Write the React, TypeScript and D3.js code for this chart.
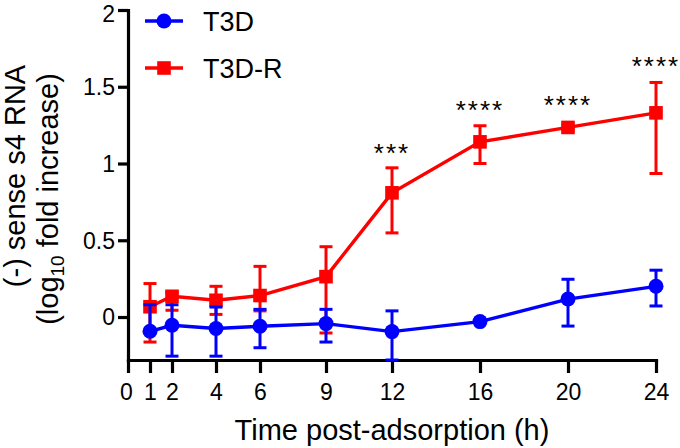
import React, { useEffect, useRef } from 'react';
import * as d3 from 'd3';

// hours post-adsorption
const times = [1, 2, 4, 6, 9, 12, 16, 20, 24];

// T3D (blue) mean and error bar ends
const t3dMean = [-0.093, -0.054, -0.075, -0.06, -0.043, -0.095, -0.03, 0.117, 0.2];
const t3dUpper = [0.08, 0.08, 0.065, 0.05, 0.05, 0.04, -0.03, 0.246, 0.305];
const t3dLower = [-0.1, -0.255, -0.255, -0.2, -0.163, -0.28, -0.03, -0.059, 0.072];

// T3D-R (red)
const t3drMean = [0.067, 0.135, 0.109, 0.14, 0.263, 0.809, 1.141, 1.235, 1.33];
const t3drUpper = [0.218, 0.16, 0.2, 0.33, 0.458, 0.972, 1.246, 1.25, 1.528];
const t3drLower = [-0.163, 0.044, 0.017, 0.04, -0.104, 0.548, 1.0, 1.22, 0.935];

// significance stars
const sigTimes = [12, 16, 20, 24];
const sigLabels = ['***', '****', '****', '****'];
const sigLevels = [1.107, 1.388, 1.417, 1.674];

const xTicks = [0, 1, 2, 4, 6, 9, 12, 16, 20, 24];
const yTicks = [0, 0.5, 1, 1.5, 2];

const FONT = '"Liberation Sans", Arial, sans-serif';

const App = () => {
  const svgRef = useRef(null);

  useEffect(() => {
    document.body.style.margin = '0';
    const svg = d3.select(svgRef.current);
    svg.selectAll('*').remove();

    const x = d3.scaleLinear().domain([0, 24]).range([128, 656]);
    const y = d3.scaleLinear().domain([-0.28, 2]).range([360, 10]);

    // axes
    const xAxis = d3.axisBottom(x)
      .tickValues(xTicks)
      .tickSizeInner(13)
      .tickSizeOuter(0)
      .tickFormat(d => String(d));
    const yAxis = d3.axisLeft(y)
      .tickValues(yTicks)
      .tickSizeInner(10)
      .tickSizeOuter(0)
      .tickFormat(d => String(d));

    const $x = svg.append('g')
      .attr('transform', `translate(0, ${y(-0.28)})`)
      .call(xAxis);
    const $y = svg.append('g')
      .attr('transform', `translate(${x(0)}, 0)`)
      .call(yAxis);

    [$x, $y].forEach(g => {
      g.select('.domain').attr('stroke', '#000').attr('stroke-width', 3.2).attr('stroke-linecap', 'square');
      g.selectAll('.tick line').attr('stroke', '#000').attr('stroke-width', 3.2);
      g.selectAll('.tick text')
        .attr('fill', '#000')
        .style('font-family', FONT)
        .style('font-size', '23px');
    });
    $x.selectAll('.tick text').attr('y', 24).attr('dy', '0.71em');
    $x.select('.tick text').attr('dx', -2);
    $y.selectAll('.tick text').attr('x', -13).attr('dy', '0.34em');
    // top label sits a little lower so it is not clipped
    $y.selectAll('.tick text').filter(d => d === 2).attr('dy', '0.52em');

    // axis titles
    svg.append('text')
      .attr('x', (x(0) + x(24)) / 2)
      .attr('y', 440)
      .attr('text-anchor', 'middle')
      .style('font-family', FONT)
      .style('font-size', '29px')
      .text('Time post-adsorption (h)');

    svg.append('text')
      .attr('transform', 'translate(25, 176) rotate(-90)')
      .attr('text-anchor', 'middle')
      .style('font-family', FONT)
      .style('font-size', '29px')
      .text('(-) sense s4 RNA');

    const t2 = svg.append('text')
      .attr('transform', 'translate(58, 199) rotate(-90)')
      .attr('text-anchor', 'middle')
      .style('font-family', FONT)
      .style('font-size', '29px');
    t2.append('tspan').text('(log');
    t2.append('tspan').attr('dy', 6).style('font-size', '19px').text('10');
    t2.append('tspan').attr('dy', -6).text(' fold increase)');

    const series = [
      { name: 'T3D-R', color: '#ff0000', mean: t3drMean, lo: t3drLower, hi: t3drUpper, shape: 'square' },
      { name: 'T3D', color: '#0000ff', mean: t3dMean, lo: t3dLower, hi: t3dUpper, shape: 'circle' },
    ];

    const line = d3.line()
      .x(d => x(d[0]))
      .y(d => y(d[1]));

    series.forEach(s => {
      const g = svg.append('g');
      const pts = times.map((t, i) => [t, s.mean[i]]);

      g.append('path')
        .datum(pts)
        .attr('d', line)
        .attr('fill', 'none')
        .attr('stroke', s.color)
        .attr('stroke-width', 3.4);

      // error bars
      times.forEach((t, i) => {
        const cx = x(t);
        g.append('line')
          .attr('x1', cx).attr('x2', cx)
          .attr('y1', y(s.hi[i])).attr('y2', y(s.lo[i]))
          .attr('stroke', s.color).attr('stroke-width', 3);
        [s.hi[i], s.lo[i]].forEach(v => {
          g.append('line')
            .attr('x1', cx - 6.5).attr('x2', cx + 6.5)
            .attr('y1', y(v)).attr('y2', y(v))
            .attr('stroke', s.color).attr('stroke-width', 3);
        });
      });

      // markers
      if (s.shape === 'circle') {
        g.selectAll('circle.pt').data(pts).join('circle')
          .attr('cx', d => x(d[0])).attr('cy', d => y(d[1]))
          .attr('r', 7.5).attr('fill', s.color);
      } else {
        g.selectAll('rect.pt').data(pts).join('rect')
          .attr('x', d => x(d[0]) - 6.8).attr('y', d => y(d[1]) - 6.8)
          .attr('width', 13.6).attr('height', 13.6).attr('fill', s.color);
      }
    });

    // significance
    sigTimes.forEach((t, i) => {
      svg.append('text')
        .attr('x', x(t))
        .attr('y', y(sigLevels[i]) + 15)
        .attr('text-anchor', 'middle')
        .style('font-family', FONT)
        .style('font-size', '26px')
        .style('letter-spacing', '2px')
        .text(sigLabels[i]);
    });

    // legend
    const legend = [
      { name: 'T3D', color: '#0000ff', shape: 'circle', cy: 21 },
      { name: 'T3D-R', color: '#ff0000', shape: 'square', cy: 68 },
    ];
    legend.forEach(l => {
      svg.append('line')
        .attr('x1', 145).attr('x2', 183)
        .attr('y1', l.cy).attr('y2', l.cy)
        .attr('stroke', l.color).attr('stroke-width', 3.4);
      if (l.shape === 'circle') {
        svg.append('circle').attr('cx', 164).attr('cy', l.cy).attr('r', 7.5).attr('fill', l.color);
      } else {
        svg.append('rect').attr('x', 157.2).attr('y', l.cy - 6.8)
          .attr('width', 13.6).attr('height', 13.6).attr('fill', l.color);
      }
      svg.append('text')
        .attr('x', 203)
        .attr('y', l.cy + 9.5)
        .style('font-family', FONT)
        .style('font-size', '27px')
        .text(l.name);
    });
  }, []);

  return <svg ref={svgRef} width={680} height={448} style={{ display: 'block', background: '#fff' }}></svg>;
};

export default App;
